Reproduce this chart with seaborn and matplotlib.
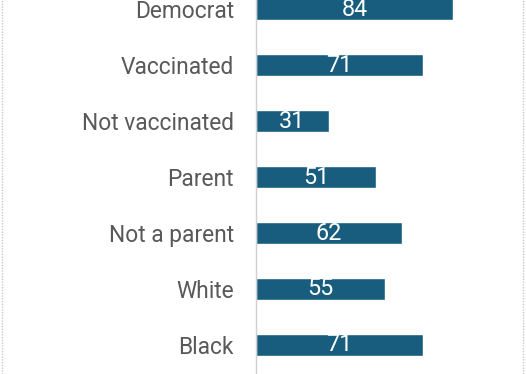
import matplotlib
matplotlib.use("Agg")
import matplotlib.pyplot as plt
from matplotlib.lines import Line2D
import pandas as pd
import seaborn as sns

groups = ["Democrat", "Vaccinated", "Not vaccinated", "Parent",
          "Not a parent", "White", "Black"]
values = [84, 71, 31, 51, 62, 55, 71]

sns.set_theme(style="white")
plt.rcParams["font.family"] = ["Roboto", "DejaVu Sans"]

df = pd.DataFrame({"group": groups, "value": values})

fig = plt.figure(figsize=(5.26, 3.74), dpi=100)
ax = fig.add_axes([256 / 526, 0, 270 / 526, 1])
sns.barplot(data=df, x="value", y="group", color="#185d7d", width=0.39,
            saturation=1, ax=ax)

for c in ax.containers:
    ax.bar_label(c, label_type="center", color="white", fontsize=16.8)

ax.set_xlim(0, 115)
ax.set_ylim(6.518, -0.161)
ax.set_xlabel(""); ax.set_ylabel("")
ax.set_xticks([])
ax.tick_params(axis="y", length=0, pad=16, labelsize=16.4, labelcolor="#595959")
for s in ["top", "right", "bottom"]:
    ax.spines[s].set_visible(False)
ax.spines["left"].set_color("#d0d0d0")
ax.spines["left"].set_linewidth(1)
ax.spines["left"].set_linestyle((0, (2, 1)))
ax.patch.set_alpha(0)

# dotted frame edges of the chart area
for fx in (1.5 / 526, 522.5 / 526):
    fig.add_artist(Line2D([fx, fx], [0, 1], transform=fig.transFigure,
                          color="#c8c8c8", lw=1, ls=(0, (1, 1))))

fig.savefig("out.png", dpi=100)
